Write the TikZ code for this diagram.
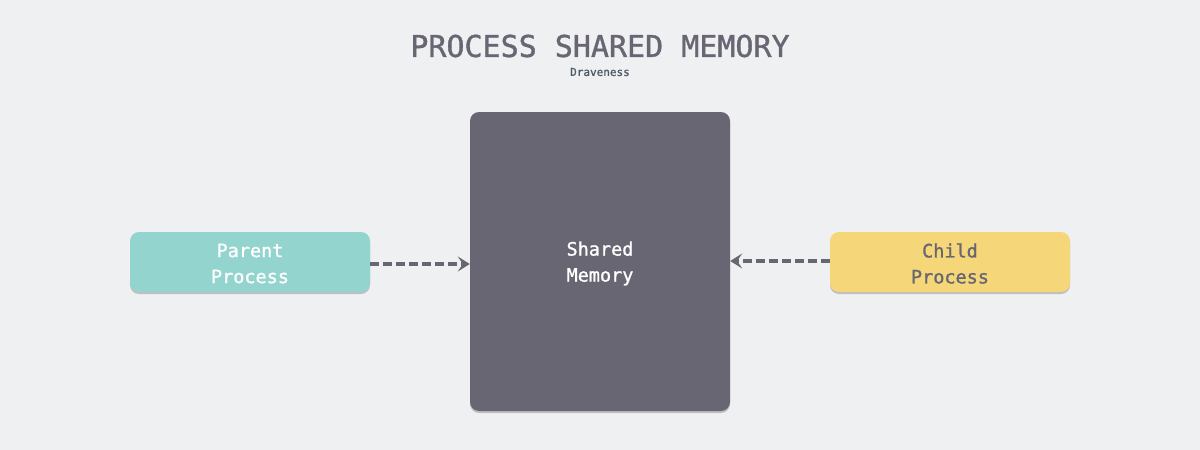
\documentclass[tikz,border=0pt]{standalone}
\usepackage{fontspec}
\setmonofont{DejaVu Sans Mono}[AutoFakeBold=1.2]
\usetikzlibrary{arrows.meta,shadows}
\definecolor{bg}{HTML}{EFF0F2}
\definecolor{slate}{HTML}{686673}
\definecolor{teal}{HTML}{93D5CE}
\definecolor{gold}{HTML}{F5D678}
\definecolor{subt}{HTML}{4E5A66}
\tikzset{
  box/.style={rounded corners=9pt, inner sep=0pt,
    drop shadow={shadow xshift=0pt, shadow yshift=-2pt, opacity=0.35, fill=black!60}},
  boxtext/.style={font=\ttfamily\bfseries\fontsize{18.5}{26}\selectfont, align=center},
  link/.style={draw=slate, line width=4.5pt, dash pattern=on 9pt off 4pt, -{Stealth[length=12pt,width=15pt,inset=5pt]}}
}
\begin{document}
\begin{tikzpicture}[x=1pt,y=-1pt]
\fill[bg] (0,0) rectangle (1200,450);
\useasboundingbox (0,0) rectangle (1200,450);
\node[font=\ttfamily\bfseries\fontsize{30}{34}\selectfont, text=slate] (title) at (600,46) {PROCESS SHARED MEMORY};
\node[font=\ttfamily\bfseries\fontsize{11}{13}\selectfont, text=subt] (author) at (600,72) {Draveness};
\node[box, fill=slate, minimum width=260pt, minimum height=299pt] (mem) at (600,261.5) {};
\node[box, fill=teal, minimum width=240pt, minimum height=60pt] (parent) at (250,262) {};
\node[box, fill=gold, minimum width=240pt, minimum height=60pt] (child) at (950,262) {};
\node[boxtext, text=white] (memtext) at (mem.center) [yshift=-2pt] {Shared\\Memory};
\node[boxtext, text=white] (parenttext) at (parent.center) [yshift=-1.5pt] {Parent\\Process};
\node[boxtext, text=slate] (childtext) at (child.center) [yshift=-1.5pt] {Child\\Process};
\draw[link] ([yshift=-2pt]parent.east) -- ([yshift=-2pt]parent.east -| mem.west);
\draw[link] ([yshift=1pt]child.west) -- ([yshift=1pt]child.west -| mem.east);
\end{tikzpicture}
\end{document}
